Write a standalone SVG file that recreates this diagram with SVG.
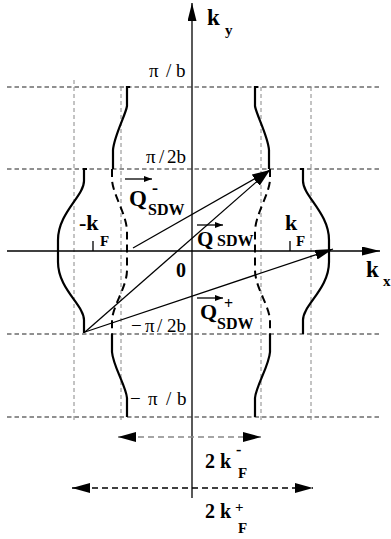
<svg xmlns="http://www.w3.org/2000/svg" width="391" height="539" viewBox="0 0 391 539">
<defs>
<marker id="ah" viewBox="0 0 18 10" refX="18" refY="5" markerWidth="18" markerHeight="10" markerUnits="userSpaceOnUse" orient="auto-start-reverse"><path d="M0,0 L18,5 L0,10 z" fill="#000"/></marker>
<marker id="ax" viewBox="0 0 18 9" refX="18" refY="4.5" markerWidth="18" markerHeight="9" markerUnits="userSpaceOnUse" orient="auto"><path d="M0,0 L18,4.5 L0,9 z" fill="#000"/></marker>
<marker id="sm" viewBox="0 0 8 6" refX="8" refY="3" markerWidth="8" markerHeight="6" markerUnits="userSpaceOnUse" orient="auto"><path d="M0,0 L8,3 L0,6 z" fill="#000"/></marker>
</defs>
<style>
.hg{stroke:#222;stroke-width:1.1;stroke-dasharray:4.5 3;fill:none}
.vg{stroke:#888;stroke-width:1;stroke-dasharray:4 3;fill:none}
.fs{stroke:#000;stroke-width:2.2;fill:none}
.fd{stroke:#000;stroke-width:2;fill:none;stroke-dasharray:8 5}
.ax{stroke:#000;stroke-width:1.3;fill:none}
.q{stroke:#000;stroke-width:1.3;fill:none}
.t{font-family:"Liberation Serif","Times New Roman",serif;fill:#000}
.b{font-weight:bold}
</style>
<rect width="391" height="539" fill="#fff"/>
<g id="grid">
<path class="hg" d="M7,87H380M7,169H380M7,334H380M7,417H380"/>
<path class="vg" d="M74,80V420M121,87V420M261,87V420M311,87V420"/>
</g>
<g id="axes">
<path class="ax" d="M192,498V3" marker-end="url(#ax)"/>
<path class="ax" d="M7,251H380" marker-end="url(#ax)"/>
<path class="ax" d="M93,241V251M290,241V251"/>
</g>
<g id="fermi-inner-left">
<path class="fs" d="M130,87H127V106C126,114 114,136 113,150V169"/>
<path class="fd" d="M112,169V180C113,195 127,215 127,232V270C127,287 113,305 112,320V334"/>
<path class="fs" d="M112,334V352C113,366 126,386 127,398V417"/>
</g>
<g id="fermi-inner-right">
<path class="fs" d="M258,87H255V106C256,114 268,136 269,150V169"/>
<path class="fd" d="M270,169V180C269,195 255,215 255,232V270C255,287 269,305 270,320V334"/>
<path class="fs" d="M270,334V352C269,366 256,386 255,398V417"/>
</g>
<g id="fermi-outer-left">
<path class="fs" d="M87,169H84V181C84,196 58,213 58,240V262C58,289 84,305 84,320V333"/>
</g>
<g id="fermi-outer-right">
<path class="fs" d="M300,169H303V181C303,196 329,213 329,240V262C329,289 303,305 303,320V334"/>
</g>
<g id="connectors">
<path class="q" d="M133,248L270,170" marker-end="url(#ah)"/>
<path class="q" d="M85,332L270,170" marker-end="url(#ah)"/>
<path class="q" d="M85,332L333,249" marker-end="url(#ah)"/>
<path d="M118,437H261" stroke="#888" stroke-width="1.3" stroke-dasharray="6 4" fill="none" marker-start="url(#ah)" marker-end="url(#ah)"/>
<path d="M72,488H313" stroke="#000" stroke-width="1.5" stroke-dasharray="6 4" fill="none" marker-start="url(#ah)" marker-end="url(#ah)"/>
<path class="q" d="M125,179H152" stroke-width="1" marker-end="url(#sm)"/>
<path class="q" d="M197,225H223" stroke-width="1" marker-end="url(#sm)"/>
<path class="q" d="M197,298H223" stroke-width="1" marker-end="url(#sm)"/>
</g>
<g id="labels">
<text class="t b" x="207" y="25" font-size="23">k</text>
<text class="t b" x="225" y="35" font-size="15">y</text>
<text class="t b" x="366" y="277" font-size="23">k</text>
<text class="t b" x="383" y="286" font-size="15">x</text>
<text class="t" y="77" font-size="19"><tspan x="149">π</tspan><tspan x="166">/</tspan><tspan x="176">b</tspan></text>
<text class="t" y="163" font-size="19"><tspan x="146">π</tspan><tspan x="159">/</tspan><tspan x="167">2b</tspan></text>
<text class="t" y="332" font-size="19"><tspan x="131">−</tspan><tspan x="145">π</tspan><tspan x="157">/</tspan><tspan x="167">2b</tspan></text>
<text class="t" y="405" font-size="19"><tspan x="130">−</tspan><tspan x="148">π</tspan><tspan x="166">/</tspan><tspan x="177">b</tspan></text>
<text class="t b" x="176" y="277" font-size="20">0</text>
<text class="t b" x="79" y="230" font-size="22">-k</text>
<text class="t b" x="100" y="246" font-size="15">F</text>
<text class="t b" x="285" y="230" font-size="22">k</text>
<text class="t b" x="296" y="246" font-size="15">F</text>
<text class="t b" x="129" y="206" font-size="23">Q</text>
<text class="t b" x="152" y="194" font-size="18">-</text>
<text class="t b" x="148" y="215" font-size="16">SDW</text>
<text class="t b" x="197" y="246" font-size="21">Q</text>
<text class="t b" x="217" y="246" font-size="16">SDW</text>
<text class="t b" x="200" y="319" font-size="22">Q</text>
<text class="t b" x="224" y="309" font-size="16">+</text>
<text class="t b" x="217" y="329" font-size="16">SDW</text>
<text class="t b" x="205" y="468" font-size="20">2 k</text>
<text class="t b" x="236" y="455" font-size="16">-</text>
<text class="t b" x="238" y="478" font-size="15">F</text>
<text class="t b" x="205" y="518" font-size="20">2 k</text>
<text class="t b" x="235" y="512" font-size="15">+</text>
<text class="t b" x="238" y="533" font-size="15">F</text>
</g>
</svg>
